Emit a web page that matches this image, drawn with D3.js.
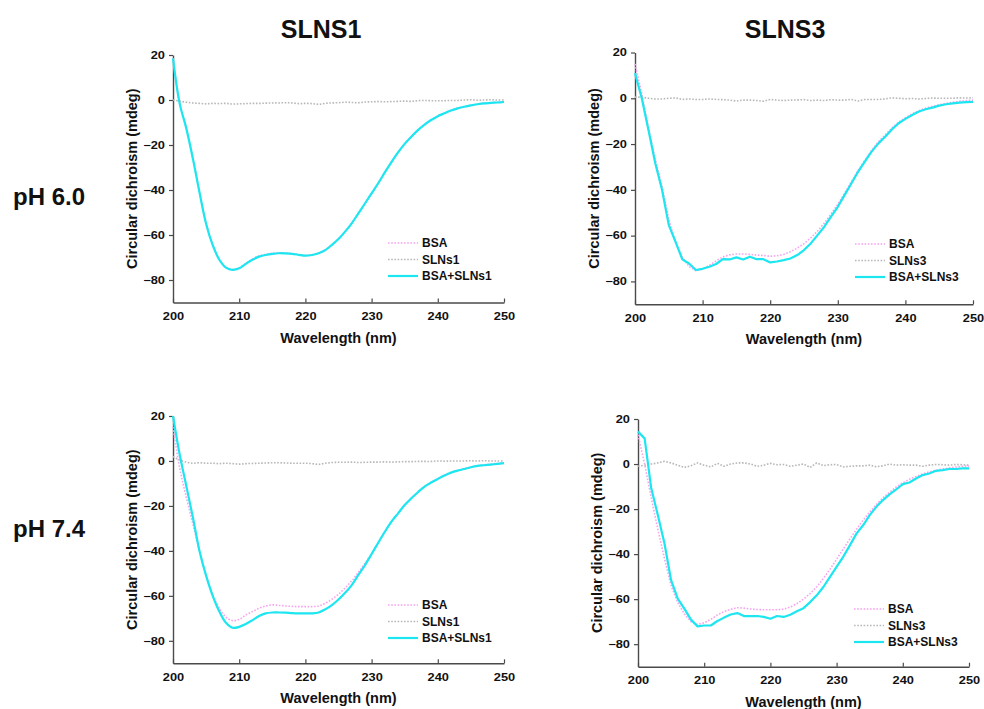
<!DOCTYPE html>
<html>
<head>
<meta charset="utf-8">
<script src="https://cdn.jsdelivr.net/npm/d3@7"></script>
<style>
  body { margin: 0; background: #fff; }
  text { font-family: "Liberation Sans", Arial, sans-serif; font-weight: bold; fill: #111; }
</style>
</head>
<body>
<svg id="chart" width="984" height="709"></svg>
<script>
// Wavelength grid (nm) shared by every spectrum
const wavelength = [200,201,202,203,204,205,206,207,208,209,210,211,212,213,214,215,216,217,218,219,220,
  221,222,223,224,225,226,227,228,229,230,231,232,233,234,235,236,237,238,239,240,
  241,242,243,244,245,246,247,248,249,250];

const xTicks = [200, 210, 220, 230, 240, 250];
const yTicks = [20, 0, -20, -40, -60, -80];
const columnTitles = ["SLNS1", "SLNS3"];
const rowTitles = ["pH 6.0", "pH 7.4"];
const namesS1 = ["BSA", "SLNs1", "BSA+SLNs1"];
const namesS3 = ["BSA", "SLNs3", "BSA+SLNs3"];

// CD spectra (mdeg), pH 6.0, SLNs1
const bsa_60_s1 = [18.5,-1.2,-12.3,-25.8,-40.8,-55,-64.3,-70.8,-74.3,-75.3,-74.6,-72.6,-70.7,-69.3,-68.6,-68.1,-67.9,-68,-68.3,-68.7,-69.1,-68.8,-68,-66.6,-64.3,-61.7,-58.4,-54.7,-50.3,-45.9,-41.4,-36.9,-32.1,-27.5,-23.2,-19.4,-16.2,-13.3,-10.8,-8.8,-7.1,-5.8,-4.6,-3.6,-2.9,-2.3,-1.8,-1.4,-1.2,-1.0,-0.8];
const sln_60_s1 = [0,-0.5,-1,-1.3,-1.5,-1.7,-1.5,-1.6,-1.5,-1.8,-1.7,-1.6,-1.5,-1.5,-1.4,-1.3,-1.3,-1.2,-1.3,-1.6,-1.5,-1.6,-1.9,-1.5,-1.3,-1.2,-1.0,-1.1,-1.2,-0.9,-0.8,-0.7,-0.8,-0.7,-0.6,-0.5,-0.6,-0.3,-0.2,-0.3,-0.3,-0.3,-0.2,-0.2,0,0.1,-0.1,0,0.1,0,0];
const mix_60_s1 = [18.5,-1.5,-12.5,-26,-41,-55,-64.5,-71,-74.5,-75.5,-74.8,-72.8,-71,-69.6,-68.9,-68.4,-68.1,-68.2,-68.4,-68.8,-69.2,-68.9,-68.1,-66.7,-64.4,-61.8,-58.5,-54.8,-50.4,-46,-41.5,-37,-32.2,-27.6,-23.3,-19.5,-16.3,-13.4,-10.9,-8.9,-7.2,-5.9,-4.7,-3.7,-3,-2.4,-1.9,-1.5,-1.3,-1.1,-0.9];

// CD spectra (mdeg), pH 6.0, SLNs3
const bsa_60_s3 = [15,2,-13,-26.5,-38.5,-53,-63,-69.5,-73.5,-75.3,-74.6,-73,-71,-69.3,-68.4,-68,-68,-68.2,-68.5,-68.7,-69,-68.8,-68.2,-67,-65.5,-63.5,-61,-58,-54.5,-50.5,-46.3,-41.5,-36.5,-31.5,-27,-22.8,-19,-16,-13,-10.4,-8.5,-6.8,-5.4,-4.3,-3.5,-2.8,-2.2,-1.7,-1.3,-1.0,-0.8];
const sln_60_s3 = [0.5,0.5,0,-0.3,-0.3,0,0.2,-0.5,-0.3,-0.5,-0.5,-0.3,-0.5,-0.6,-0.8,-1.2,-0.8,-0.8,-1,-1.3,-0.5,-0.8,-1,-0.8,-0.7,-0.6,-1,-0.8,-1,-0.6,-0.8,-0.8,-0.5,-1.2,-0.5,-0.5,-0.5,-0.3,0.2,0,-0.2,-0.1,-0.3,-0.1,0.1,0,0,0,0.2,0.1,0.2];
const mix_60_s3 = [11,0,-14,-28.4,-40,-55.4,-62.7,-70.4,-72.2,-75,-74.5,-73.6,-72.4,-70.3,-70.4,-69.5,-70.4,-69.2,-70.3,-70.3,-71.7,-71.3,-70.7,-70,-68.5,-66.3,-63.4,-59.8,-56.1,-51.7,-47.4,-42.3,-37.2,-32.1,-27.7,-23.3,-19.7,-16.8,-13.6,-10.9,-9,-7.3,-5.8,-4.8,-4.1,-3.2,-2.6,-2.2,-1.9,-1.7,-1.6];

// CD spectra (mdeg), pH 7.4, SLNs1
const bsa_74_s1 = [15,-3,-16,-28,-40,-51,-59.5,-65.5,-69.5,-71,-70.5,-68.5,-67,-65.5,-64.5,-64,-64.2,-64.5,-64.7,-64.8,-64.8,-64.8,-64.5,-63.3,-61.5,-59.3,-56.5,-53.3,-49.5,-45.5,-41.2,-36.3,-31.5,-27,-23.2,-19.5,-16.5,-13.8,-11.3,-9.5,-7.9,-6.4,-5.1,-4.2,-3.4,-2.7,-2.1,-1.7,-1.4,-1.1,-0.8];
const sln_74_s1 = [2,0.5,-0.5,-1,-0.8,-1,-1,-1.2,-1,-1.2,-1.4,-1.2,-1.1,-1,-0.9,-0.8,-0.8,-0.9,-1,-1,-1,-1.2,-1.5,-1,-0.7,-0.6,-0.6,-0.5,-0.7,-0.6,-0.5,-0.5,-0.4,-0.5,-0.4,-0.3,-0.3,-0.2,-0.2,-0.2,0,-0.1,0,0,0,0.1,0,0.1,0,0,0];
const mix_74_s1 = [20,3,-11,-25,-40,-51,-60,-67,-72,-74.2,-73.8,-72.5,-70.8,-69,-67.8,-67.4,-67.4,-67.5,-67.7,-67.8,-67.8,-67.8,-67.4,-66,-64.1,-61.6,-58.6,-55.2,-50.7,-46.3,-41.4,-36.4,-31.5,-27,-23.3,-19.6,-16.6,-13.9,-11.4,-9.6,-8,-6.5,-5.2,-4.3,-3.6,-2.8,-2.2,-1.9,-1.6,-1.3,-1];

// CD spectra (mdeg), pH 7.4, SLNs3
const bsa_74_s3 = [13,0,-15,-29,-42,-54,-61.5,-66.5,-70,-71.2,-70.5,-69,-67,-65.5,-64.5,-63.8,-64,-64.4,-64.6,-64.7,-64.7,-64.7,-64.5,-63.5,-62,-60,-57.5,-54.5,-50.8,-46.7,-42.3,-37.8,-33.3,-29,-25,-21.3,-18,-15,-12.5,-10.2,-8.3,-6.8,-5.5,-4.4,-3.5,-2.8,-2.2,-1.7,-1.3,-1.0,-0.8];
const sln_74_s3 = [-1,-0.5,0,0.5,1.2,0.5,-0.5,-1.5,-0.8,0.5,-0.5,-1.3,0.3,-1,0,0.5,0.5,0,-1,-0.5,0.3,-0.3,-0.2,-1,-0.5,0,-1.5,0.5,-0.7,-0.3,-0.2,-1.3,-1,-0.8,-0.8,-0.5,-1.2,-0.8,0,-0.5,-0.3,-0.5,-0.5,-1,-0.5,-0.2,-0.3,-0.5,-0.2,-0.3,-0.5];
const mix_74_s3 = [14.4,11.4,-10.8,-22.7,-35.3,-51.6,-59.8,-64.2,-69.1,-72.1,-71.7,-71.7,-69.7,-68.2,-66.8,-66.2,-67.5,-67.5,-67.5,-67.9,-68.7,-67.5,-67.9,-66.9,-65.4,-64,-61.3,-58.3,-54.6,-50.1,-45.7,-41.2,-36.1,-30.9,-27.2,-22.7,-19,-16,-13.5,-11.3,-8.9,-8.2,-6.4,-4.9,-4.2,-3,-2.7,-2.2,-2.2,-1.9,-1.9];

const colors = ["#f6a3ef", "#b8b8b8", "#1ce6f0"];

// Panel frames in page pixels
const panels = [
  { left: 173, right: 504, top: 55,  bottom: 302.5, series: [bsa_60_s1, sln_60_s1, mix_60_s1], names: namesS1, smooth: true,  legX: 388, legY: 243 },
  { left: 635, right: 973, top: 52.5, bottom: 304.3, series: [bsa_60_s3, sln_60_s3, mix_60_s3], names: namesS3, smooth: false, legX: 855, legY: 244 },
  { left: 173, right: 504, top: 416, bottom: 663.3, series: [bsa_74_s1, sln_74_s1, mix_74_s1], names: namesS1, smooth: true,  legX: 388, legY: 605 },
  { left: 638, right: 969, top: 419, bottom: 666.7, series: [bsa_74_s3, sln_74_s3, mix_74_s3], names: namesS3, smooth: false, legX: 854, legY: 609 }
];

const svg = d3.select("#chart");
const tickStretch = 1.22; // tick numerals are set slightly wide

panels.forEach(p => {
  const x = d3.scaleLinear().domain([200, 250]).range([p.left, p.right]);
  const y = d3.scaleLinear().domain([-90, 20]).range([p.bottom, p.top]);
  const g = svg.append("g");

  // axes
  const yAxis = g.append("g")
    .attr("transform", `translate(${p.left},0)`)
    .call(d3.axisLeft(y).tickValues(yTicks).tickSizeInner(4).tickSizeOuter(0).tickPadding(2.6));
  const xAxis = g.append("g")
    .attr("transform", `translate(0,${p.bottom})`)
    .call(d3.axisBottom(x).tickValues(xTicks).tickSizeInner(-4).tickSizeOuter(0).tickPadding(10));
  [xAxis, yAxis].forEach(a => {
    a.select(".domain").attr("stroke", "#4a4a4a").attr("stroke-width", 1.4);
    a.selectAll(".tick line").attr("stroke", "#4a4a4a").attr("stroke-width", 1.2);
    a.selectAll(".tick text")
      .attr("font-size", 10.5)
      .attr("font-family", "Liberation Sans, Arial, sans-serif")
      .attr("font-weight", "bold")
      .attr("fill", "#111")
      .attr("transform", `scale(${tickStretch},1)`);
  });

  // axis titles
  g.append("text")
    .attr("x", (p.left + p.right) / 2).attr("y", p.bottom + 40)
    .attr("text-anchor", "middle").attr("font-size", 14.5)
    .text("Wavelength (nm)");
  g.append("text")
    .attr("transform", `translate(${p.left - 36},${(p.top + p.bottom) / 2}) rotate(-90)`)
    .attr("text-anchor", "middle").attr("font-size", 14.5)
    .text("Circular dichroism (mdeg)");

  // spectra: blank, protein, then complex on top
  const line = d3.line()
    .x((d, i) => x(wavelength[i]))
    .y(d => y(d))
    .curve(p.smooth ? d3.curveCatmullRom : d3.curveLinear);
  const order = [1, 0, 2];
  order.forEach(k => {
    g.append("path")
      .datum(p.series[k])
      .attr("fill", "none")
      .attr("stroke", colors[k])
      .attr("stroke-width", k === 2 ? 2.2 : 1.6)
      .attr("stroke-dasharray", k === 2 ? null : "1.6,1.6")
      .attr("stroke-linejoin", "round")
      .attr("d", line);
  });

  // legend
  p.names.forEach((name, k) => {
    const ly = p.legY + k * 16.5;
    g.append("line")
      .attr("x1", p.legX).attr("x2", p.legX + 30)
      .attr("y1", ly).attr("y2", ly)
      .attr("stroke", colors[k])
      .attr("stroke-width", k === 2 ? 2.2 : 1.6)
      .attr("stroke-dasharray", k === 2 ? null : "1.6,1.6");
    g.append("text")
      .attr("x", p.legX + 34).attr("y", ly + 4.3)
      .attr("font-size", 12)
      .text(name);
  });
});

// column and row headings
svg.append("text").attr("x", 321).attr("y", 38).attr("text-anchor", "middle").attr("font-size", 25).text(columnTitles[0]);
svg.append("text").attr("x", 785).attr("y", 38).attr("text-anchor", "middle").attr("font-size", 25).text(columnTitles[1]);
svg.append("text").attr("x", 13).attr("y", 205).attr("font-size", 24).text(rowTitles[0]);
svg.append("text").attr("x", 13).attr("y", 537).attr("font-size", 24).text(rowTitles[1]);
</script>
</body>
</html>
